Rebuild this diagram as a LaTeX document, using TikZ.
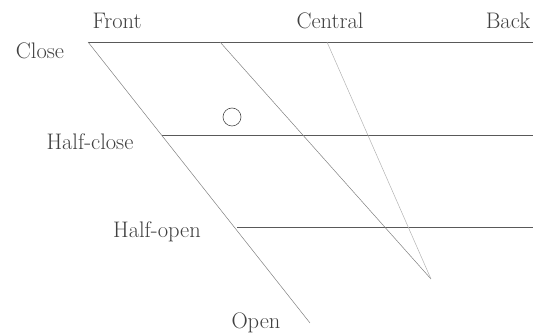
\documentclass[tikz,border=0pt]{standalone}
\usepackage{fontspec}
\setmainfont{Latin Modern Roman}
\begin{document}
\begin{tikzpicture}[x=1pt,y=-1pt,
  lbl/.style={inner sep=0pt, text=black!75, font=\fontsize{22.5}{26}\selectfont},
  hline/.style={draw=black!65, line width=0.6pt},
  dline/.style={draw=black!50, line width=0.5pt},
  lline/.style={draw=black!30, line width=0.5pt}]
\useasboundingbox (0,0) rectangle (539,336);
% coordinates
\coordinate (c1) at (88,42);
\coordinate (c2) at (533,42);
\coordinate (hc1) at (162,135);
\coordinate (hc2) at (533,135);
\coordinate (ho1) at (237,227);
\coordinate (ho2) at (533,227);
\coordinate (o) at (310,323);
\coordinate (ct) at (220,42);
\coordinate (bt) at (327,42);
\coordinate (v) at (431,279);
% lines
\draw[hline] (c1) -- (c2);
\draw[hline] (hc1) -- (hc2);
\draw[hline] (ho1) -- (ho2);
\draw[dline] (c1) -- (o);
\draw[dline] (ct) -- (v);
\draw[lline] (bt) -- (v);
\node[draw=black!70, circle, minimum size=18pt, inner sep=0pt, line width=0.6pt] (circ) at (232,117) {};
% labels
\node[lbl] (front) at (117,21) {Front};
\node[lbl] (central) at (330,21) {Central};
\node[lbl] (back) at (508,21) {Back};
\node[lbl] (close) at (40,51) {Close};
\node[lbl] (hclose) at (90,142) {Half-close};
\node[lbl] (hopen) at (157,232) {Half-open};
\node[lbl] (open) at (256,323) {Open};
\end{tikzpicture}
\end{document}
